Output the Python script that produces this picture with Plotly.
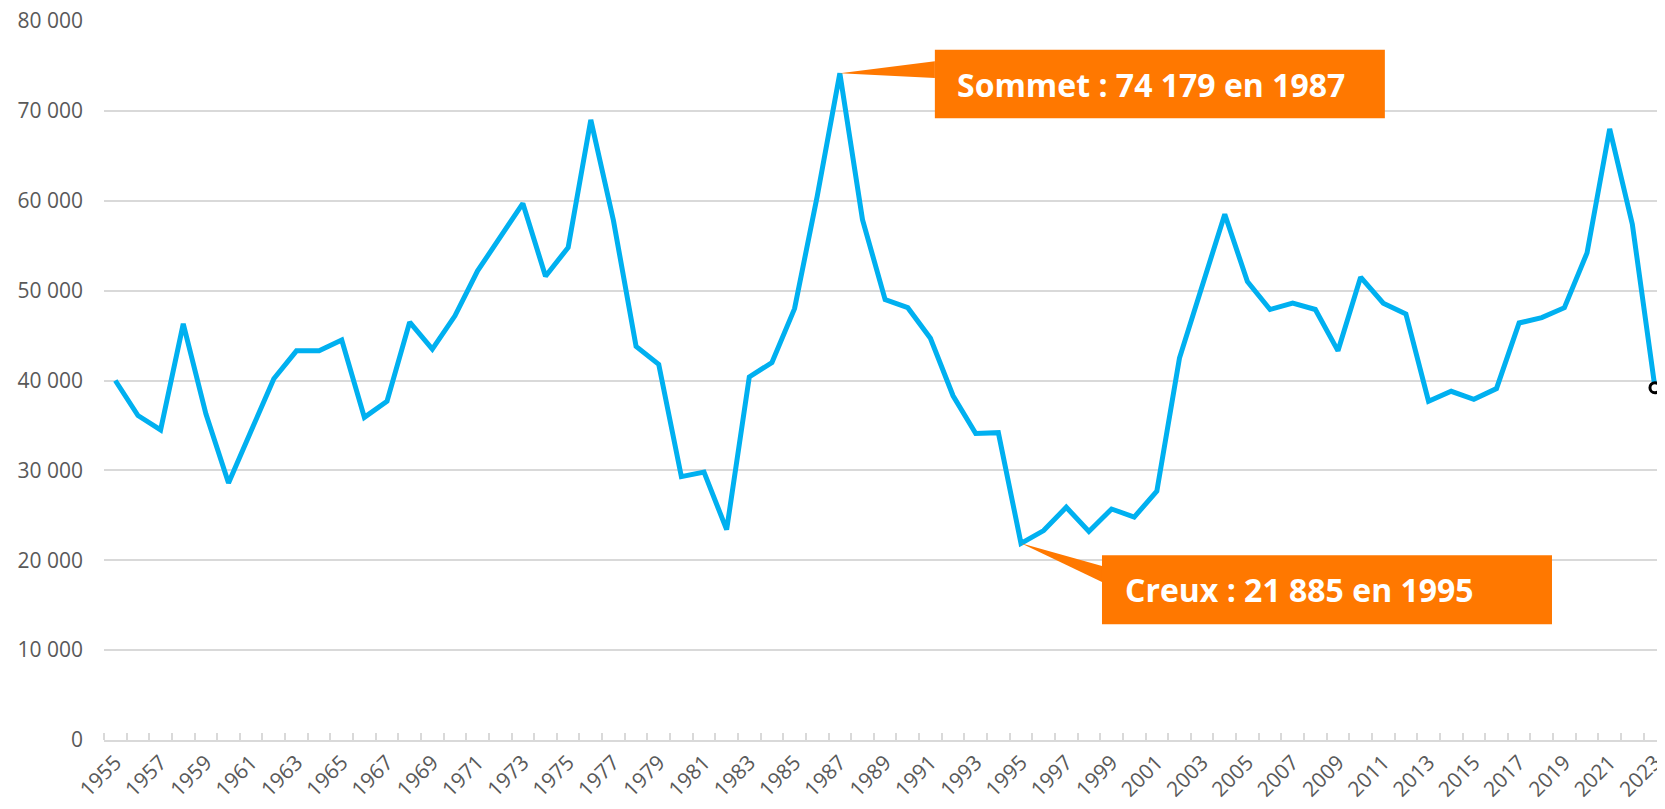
import plotly.graph_objects as go

# ---- data ----
years = list(range(1955, 2024))
values = [
    40000, 36100, 34500, 46300, 36300, 28600, 34400, 40200, 43300, 43300,
    44500, 35900, 37700, 46500, 43500, 47200, 52200, 56000, 59700, 51600,
    54800, 69000, 57800, 43800, 41800, 29300, 29800, 23400, 40400, 42000,
    48000, 60500, 74179, 57900, 49000, 48100, 44700, 38300, 34100, 34200,
    21885, 23300, 25900, 23200, 25700, 24800, 27700, 42500, 50400, 58500,
    51000, 47900, 48600, 47900, 43300, 51500, 48600, 47400, 37700, 38800,
    37900, 39100, 46400, 47000, 48100, 54200, 68000, 57400, 39200,
]
label_years = list(range(1955, 2024, 2))
label_text = [str(y) for y in label_years]
y_ticks = list(range(0, 80001, 10000))
y_text = ["0"] + [f"{v // 1000} 000" for v in y_ticks[1:]]

peak_label = "Sommet : 74 179 en 1987"
trough_label = "Creux : 21 885 en 1995"

# ---- layout geometry (page body has an 8px margin; avoid overflow) ----
BODY = 8
W, H = 1665 - 2 * BODY, 809 - 2 * BODY
ML, MR, MT = 104 - BODY, 0, 21 - BODY
MB = H - MT - 719
X_RANGE = [1954.5, 2023.09]
Y_RANGE = [0, 80000]
ppx = (W - ML - MR) / (X_RANGE[1] - X_RANGE[0])   # px per year
ppy = (H - MT - MB) / (Y_RANGE[1] - Y_RANGE[0])   # px per unit


def dx(px):
    return px / ppx


def dy(px):  # px downward -> data offset
    return -px / ppy


i_peak = values.index(max(values))
i_trough = values.index(min(values))
px_, py_ = years[i_peak], values[i_peak]
tx_, ty_ = years[i_trough], values[i_trough]

ORANGE = "#FF7800"
BLUE = "#00B0F0"
GRID = "#D9D9D9"
TXT = "#595959"

fig = go.Figure()
fig.add_trace(go.Scatter(
    x=years, y=values, mode="lines",
    line=dict(color=BLUE, width=5), showlegend=False, hoverinfo="x+y",
))
fig.add_trace(go.Scatter(
    x=[years[-1]], y=[values[-1]], mode="markers",
    marker=dict(size=10, color="white", line=dict(color="black", width=3)),
    showlegend=False, hoverinfo="skip",
))

shapes = []
# peak callout
shapes.append(dict(
    type="path", xref="x", yref="y", fillcolor=ORANGE, line=dict(width=0),
    path=(f"M {px_} {py_} L {px_ + dx(95)} {py_ + dy(-12)} "
          f"L {px_ + dx(95)} {py_ + dy(4.7)} Z"),
))
shapes.append(dict(
    type="rect", xref="x", yref="y", fillcolor=ORANGE, line=dict(width=0),
    x0=px_ + dx(95), x1=px_ + dx(545), y0=py_ + dy(-23.6), y1=py_ + dy(45),
))
# trough callout
shapes.append(dict(
    type="path", xref="x", yref="y", fillcolor=ORANGE, line=dict(width=0),
    path=(f"M {tx_} {ty_} L {tx_ + dx(81)} {ty_ + dy(22.7)} "
          f"L {tx_ + dx(81)} {ty_ + dy(38.7)} Z"),
))
shapes.append(dict(
    type="rect", xref="x", yref="y", fillcolor=ORANGE, line=dict(width=0),
    x0=tx_ + dx(81), x1=tx_ + dx(531), y0=ty_ + dy(12), y1=ty_ + dy(81),
))

ann_font = dict(family="Open Sans", size=32, color="white", weight="bold")
annotations = [
    dict(x=px_ + dx(115), y=py_ + dy(10.7), xref="x", yref="y",
         text=f"<b>{peak_label}</b>", showarrow=False, xanchor="left",
         yanchor="middle", font=ann_font),
    dict(x=tx_ + dx(101.7), y=ty_ + dy(46), xref="x", yref="y",
         text=f"<b>{trough_label}</b>", showarrow=False, xanchor="left",
         yanchor="middle", font=ann_font),
]

fig.update_layout(
    width=W, height=H,
    margin=dict(l=ML, r=MR, t=MT, b=MB, pad=0, autoexpand=False),
    paper_bgcolor="white", plot_bgcolor="white",
    shapes=shapes, annotations=annotations,
    font=dict(family="Open Sans", color=TXT),
)
fig.update_xaxes(
    range=X_RANGE, tickmode="array", tickvals=label_years, ticktext=label_text,
    tickangle=-45, ticks="", showgrid=False, zeroline=False, automargin=False,
    showline=True, linecolor=GRID, linewidth=2, ticklabeloverflow="allow",
    tickfont=dict(family="Open Sans", size=21, color=TXT),
    minor=dict(ticks="inside", tick0=1954.5, dtick=1, ticklen=7,
               tickcolor=GRID, tickwidth=1.5, showgrid=False),
)
fig.update_yaxes(
    range=Y_RANGE, tickmode="array", tickvals=y_ticks, ticktext=y_text,
    showgrid=True, gridcolor=GRID, gridwidth=2, zeroline=False, automargin=False,
    showline=False, ticks="", ticklabelstandoff=20, ticklabeloverflow="allow",
    tickfont=dict(family="Open Sans", size=21, color=TXT),
)

fig.write_html("out.html")
